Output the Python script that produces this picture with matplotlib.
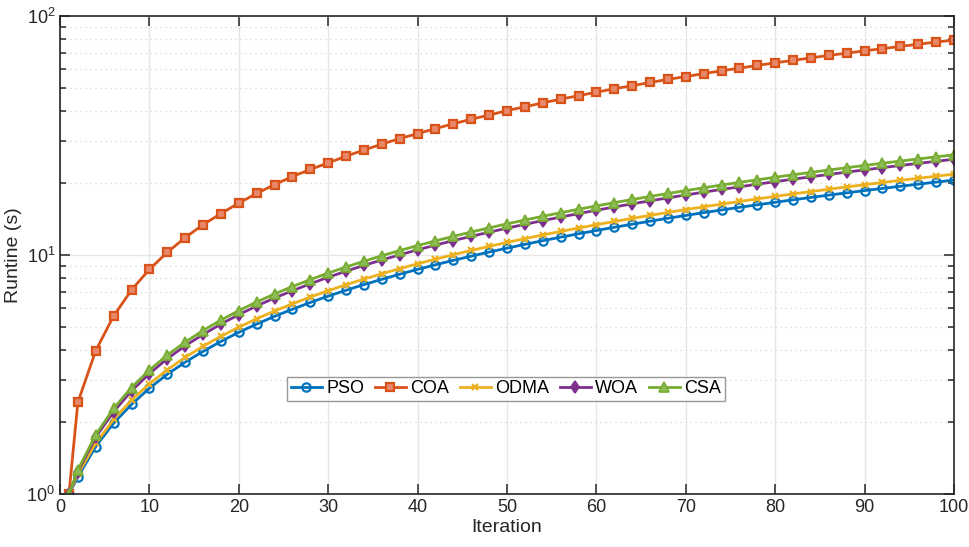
import numpy as np
import matplotlib
matplotlib.use("Agg")
import matplotlib.pyplot as plt
from matplotlib.ticker import LogLocator, NullFormatter, MultipleLocator

plt.rcParams['font.family'] = ['Liberation Sans', 'DejaVu Sans']

# iterations sampled every 2 (plus the first one)
iters = [1] + list(range(2, 101, 2))

# runtime (s)
pso = [1.0, 1.18, 1.58, 1.98, 2.37, 2.77, 3.17, 3.56, 3.95, 4.35, 4.75,
       5.14, 5.54, 5.93, 6.33, 6.73, 7.12, 7.52, 7.91, 8.31, 8.71,
       9.10, 9.50, 9.89, 10.29, 10.68, 11.08, 11.48, 11.87, 12.27, 12.66,
       13.06, 13.45, 13.85, 14.25, 14.64, 15.04, 15.43, 15.83, 16.22, 16.62,
       17.02, 17.41, 17.81, 18.20, 18.60, 18.99, 19.39, 19.79, 20.18, 20.58]
coa = [1.0, 2.42, 3.98, 5.56, 7.14, 8.71, 10.26, 11.82, 13.4, 14.9, 16.5,
       18.1, 19.7, 21.3, 22.8, 24.3, 25.9, 27.5, 29.1, 30.7, 32.2,
       33.8, 35.4, 37.0, 38.5, 40.2, 41.7, 43.3, 44.9, 46.4, 48.0,
       49.6, 51.1, 52.7, 54.3, 55.8, 57.4, 59.0, 60.5, 62.1, 63.7,
       65.2, 66.8, 68.4, 69.9, 71.5, 73.0, 74.6, 76.2, 77.8, 79.3]
odma = [1.0, 1.21, 1.63, 2.05, 2.47, 2.89, 3.31, 3.73, 4.15, 4.57, 4.99,
        5.41, 5.83, 6.25, 6.67, 7.09, 7.51, 7.93, 8.35, 8.77, 9.19,
        9.61, 10.03, 10.45, 10.87, 11.29, 11.71, 12.13, 12.55, 12.97, 13.39,
        13.81, 14.23, 14.65, 15.07, 15.49, 15.91, 16.33, 16.75, 17.17, 17.59,
        18.01, 18.43, 18.85, 19.27, 19.69, 20.11, 20.53, 20.95, 21.37, 21.79]
woa = [1.0, 1.24, 1.73, 2.21, 2.70, 3.19, 3.68, 4.17, 4.65, 5.14, 5.63,
       6.12, 6.61, 7.09, 7.58, 8.07, 8.56, 9.05, 9.53, 10.02, 10.51,
       11.00, 11.49, 11.97, 12.46, 12.95, 13.44, 13.93, 14.41, 14.90, 15.39,
       15.88, 16.37, 16.85, 17.34, 17.83, 18.32, 18.81, 19.29, 19.78, 20.27,
       20.76, 21.25, 21.73, 22.22, 22.71, 23.20, 23.69, 24.17, 24.66, 25.15]
csa = [1.0, 1.26, 1.77, 2.28, 2.79, 3.30, 3.81, 4.32, 4.83, 5.34, 5.85,
       6.36, 6.87, 7.38, 7.89, 8.40, 8.91, 9.42, 9.93, 10.44, 10.95,
       11.46, 11.97, 12.48, 12.99, 13.50, 14.01, 14.52, 15.03, 15.54, 16.05,
       16.56, 17.07, 17.58, 18.09, 18.60, 19.11, 19.62, 20.13, 20.64, 21.15,
       21.66, 22.17, 22.68, 23.19, 23.70, 24.21, 24.72, 25.23, 25.74, 26.25]

fig = plt.figure(figsize=(9.7, 5.47), dpi=100)
ax = fig.add_axes([60/970, 1 - 494/547, 894/970, 478/547])

ax.plot(iters, pso, '-o', color='#0072BD', lw=2, ms=6, mfc='none', mew=1.6, label='PSO')
ax.plot(iters, coa, '-s', color='#D95319', lw=2, ms=5.5, mfc='#E8886A', mew=1.6, label='COA')
ax.plot(iters, odma, '-x', color='#EDB120', lw=2, ms=5, mew=1.6, label='ODMA')
ax.plot(iters, woa, '-d', color='#7E2F8E', lw=2, ms=6, mfc='#7E2F8E', mew=1.2, label='WOA')
ax.plot(iters, csa, '-^', color='#77AC30', lw=2, ms=7, mfc='#8DBB55', mew=1.2, label='CSA')

ax.set_yscale('log')
ax.set_xlim(0, 100)
ax.set_ylim(1, 100)
ax.xaxis.set_major_locator(MultipleLocator(10))
ax.yaxis.set_major_locator(LogLocator(base=10))
ax.yaxis.set_minor_locator(LogLocator(base=10, subs=np.arange(2, 10)))
ax.yaxis.set_minor_formatter(NullFormatter())

ax.grid(True, which='major', color='#e6e6e6', lw=1, ls='-')
ax.grid(True, which='minor', axis='y', color='#d6d6d6', lw=0.9, ls=(0, (1, 3)))
ax.set_axisbelow(True)

ax.tick_params(which='both', direction='in', top=True, right=True,
               labelsize=13, colors='#262626', width=1.1)
ax.tick_params(which='major', length=7)
ax.tick_params(which='minor', length=4)
for s in ax.spines.values():
    s.set_color('#262626')
    s.set_linewidth(1.2)

ax.set_xlabel('Iteration', fontsize=14, color='#262626', labelpad=2)
ax.set_ylabel('Runtine (s)', fontsize=14, color='#262626', labelpad=3)

leg = ax.legend(loc='center', bbox_to_anchor=(0.499, 0.22), ncol=5, fontsize=13,
                frameon=True, fancybox=False, edgecolor='#7f7f7f',
                handlelength=1.7, handletextpad=0.25, columnspacing=0.6,
                borderpad=0.2, borderaxespad=0)
leg.get_frame().set_linewidth(1.0)

fig.savefig('out.png', dpi=100)
